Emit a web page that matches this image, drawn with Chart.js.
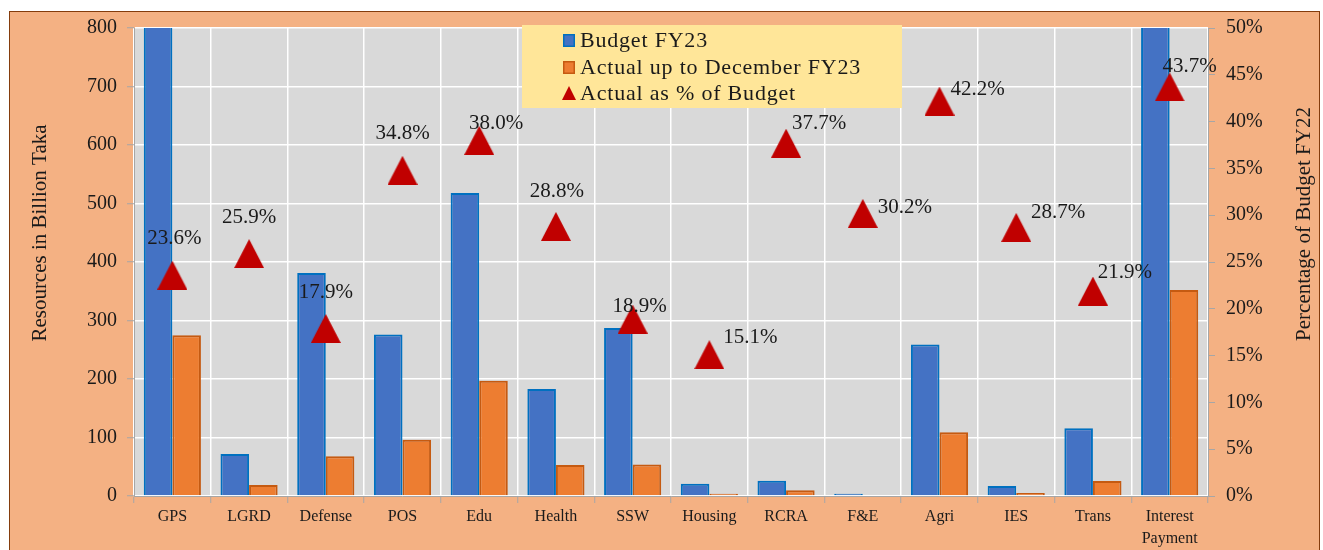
<!DOCTYPE html>
<html>
<head>
<meta charset="utf-8">
<script src="https://cdn.jsdelivr.net/npm/chart.js@4.4.1/dist/chart.umd.min.js"></script>
<style>
  body { margin: 0; background: #fff; }
  #wrap { position: absolute; left: 9px; top: 11px; width: 1309px; height: 545px;
          background: #F4B183; border: 1px solid #843C0C; }
  canvas { display: block; }
</style>
</head>
<body>
<div id="wrap"><canvas id="chart" width="1309" height="538"></canvas></div>
<script>
// DATA (billion Taka, FY23)
const categories = ["GPS", "LGRD", "Defense", "POS", "Edu", "Health", "SSW", "Housing",
  "RCRA", "F&E", "Agri", "IES", "Trans", ["Interest", "Payment"]];
const budgetFY23 = [1165, 72, 381, 276, 518, 183, 287, 21, 26, 4, 259, 17, 116, 805];
const actualDecFY23 = [275, 19, 68, 96, 197, 53, 54, 4, 10, 1.2, 109, 5, 25.5, 352];
const actualPct = [23.6, 25.9, 17.9, 34.8, 38.0, 28.8, 18.9, 15.1, 37.7, 30.2, 42.2, 28.7, 21.9, 43.7];
const leftTicks = [0, 100, 200, 300, 400, 500, 600, 700, 800];
const rightTicks = [0, 5, 10, 15, 20, 25, 30, 35, 40, 45, 50];
const seriesNames = ["Budget FY23", "Actual up to December FY23", "Actual as % of Budget"];

// where each % label sits relative to its triangle
const labelOffsets = [[2, -38], [0, -38], [0, -37], [0, -38], [17, -18], [1, -36], [7, -14],
  [41, -19], [33, -21], [42, -7], [38, -13], [42, -16], [32, -20], [20, -22]];

const SERIF = "'Liberation Serif', 'Times New Roman', serif";
const TEXT = "#1a1a1a";
const AXIS = "#A6A6A6";

function makeTriangle(w, h, color) {
  const c = document.createElement("canvas");
  c.width = w; c.height = h;
  const g = c.getContext("2d");
  g.fillStyle = color;
  g.beginPath();
  g.moveTo(w / 2, 0); g.lineTo(w, h); g.lineTo(0, h);
  g.closePath(); g.fill();
  return c;
}
const bigTri = makeTriangle(30, 29, "#C00000");

// gray plot area behind grid
const plotBg = {
  id: "plotBg",
  beforeDraw(chart) {
    const { ctx, chartArea: a } = chart;
    ctx.save();
    ctx.fillStyle = "#D9D9D9";
    ctx.fillRect(a.left, a.top, a.right - a.left, a.bottom - a.top);
    ctx.restore();
  }
};

// % labels next to the triangles
const pctLabels = {
  id: "pctLabels",
  afterDatasetsDraw(chart) {
    const ctx = chart.ctx;
    const meta = chart.getDatasetMeta(2);
    ctx.save();
    ctx.font = "21px " + SERIF;
    ctx.fillStyle = TEXT;
    ctx.textAlign = "center";
    ctx.textBaseline = "alphabetic";
    meta.data.forEach((pt, i) => {
      const [dx, dy] = labelOffsets[i];
      ctx.fillText(actualPct[i].toFixed(1) + "%", pt.x + dx, pt.y + dy + 7);
    });
    ctx.restore();
  }
};

// axis titles (both read bottom to top) and the floating legend
const extras = {
  id: "extras",
  afterDraw(chart) {
    const ctx = chart.ctx;
    ctx.save();
    ctx.font = "21px " + SERIF;
    ctx.fillStyle = TEXT;
    ctx.textAlign = "center";
    ctx.textBaseline = "alphabetic";
    [[36, 221, "Resources in Billion Taka"], [1300, 212, "Percentage of Budget FY22"]].forEach(([x, y, t]) => {
      ctx.save();
      ctx.translate(x, y);
      ctx.rotate(-Math.PI / 2);
      ctx.fillText(t, 0, 0);
      ctx.restore();
    });

    // legend box
    ctx.fillStyle = "#FFE699";
    ctx.fillRect(512, 13, 380, 83);
    const rows = [28, 55, 81];
    chart.data.datasets.forEach((ds, i) => {
      const cy = rows[i];
      if (i < 2) {
        ctx.fillStyle = ds.backgroundColor;
        ctx.fillRect(553, cy - 6, 12, 13);
        ctx.strokeStyle = ds.borderColor;
        ctx.lineWidth = 1.5;
        ctx.strokeRect(553.75, cy - 5.25, 10.5, 11.5);
      } else {
        ctx.drawImage(makeTriangle(14, 14, "#C00000"), 552, cy - 7);
      }
      ctx.fillStyle = TEXT;
      ctx.font = "22px " + SERIF;
      ctx.letterSpacing = "0.8px";
      ctx.textAlign = "left";
      ctx.fillText(ds.label, 570, cy + 7);
      ctx.letterSpacing = "0px";
    });
    ctx.restore();
  }
};

// fixed axis sizes so the plot area lands where the original has it
function fitVertical(width) {
  return s => { s.width = width; s.paddingTop = 0; s.paddingBottom = 0; };
}

new Chart(document.getElementById("chart"), {
  data: {
    labels: categories,
    datasets: [
      {
        type: "bar",
        label: seriesNames[0],
        data: budgetFY23,
        backgroundColor: "#4472C4",
        borderColor: "#0070C0",
        borderWidth: 2,
        yAxisID: "y",
        order: 1
      },
      {
        type: "bar",
        label: seriesNames[1],
        data: actualDecFY23,
        backgroundColor: "#ED7D31",
        borderColor: "#C55A11",
        borderWidth: 2,
        yAxisID: "y",
        order: 1
      },
      {
        type: "line",
        label: seriesNames[2],
        data: actualPct,
        showLine: false,
        pointStyle: bigTri,
        pointRadius: 15,
        yAxisID: "y1",
        order: 0
      }
    ]
  },
  options: {
    responsive: false,
    animation: false,
    layout: { padding: { top: 16, left: 0, right: 0, bottom: 0 } },
    datasets: { bar: { categoryPercentage: 0.745, barPercentage: 1 } },
    plugins: { legend: { display: false }, tooltip: { enabled: false } },
    scales: {
      x: {
        grid: { color: "#fff", lineWidth: 1.5, tickColor: AXIS, tickLength: 7, tickWidth: 1, offset: true },
        border: { color: AXIS },
        ticks: {
          color: TEXT, font: { family: SERIF, size: 16, lineHeight: 1.35 },
          padding: 3, autoSkip: false, maxRotation: 0
        },
        afterFit(s) { s.height = 54; s.paddingLeft = 0; s.paddingRight = 0; }
      },
      y: {
        position: "left",
        min: leftTicks[0], max: leftTicks[leftTicks.length - 1],
        afterBuildTicks(s) { s.ticks = leftTicks.map(v => ({ value: v })); },
        grid: { color: "#fff", lineWidth: 1.5, tickColor: AXIS, tickLength: 7, tickWidth: 1 },
        border: { color: AXIS },
        ticks: { color: TEXT, font: { family: SERIF, size: 20 }, padding: 10 },
        afterFit: fitVertical(124)
      },
      y1: {
        position: "right",
        min: rightTicks[0], max: rightTicks[rightTicks.length - 1],
        afterBuildTicks(s) { s.ticks = rightTicks.map(v => ({ value: v })); },
        grid: { drawOnChartArea: false, tickColor: AXIS, tickLength: 7, tickWidth: 1, color: AXIS },
        border: { color: AXIS },
        ticks: { color: TEXT, font: { family: SERIF, size: 20 }, padding: 11, callback: v => v + "%" },
        afterFit: fitVertical(111)
      }
    }
  },
  plugins: [plotBg, pctLabels, extras]
});
</script>
</body>
</html>
